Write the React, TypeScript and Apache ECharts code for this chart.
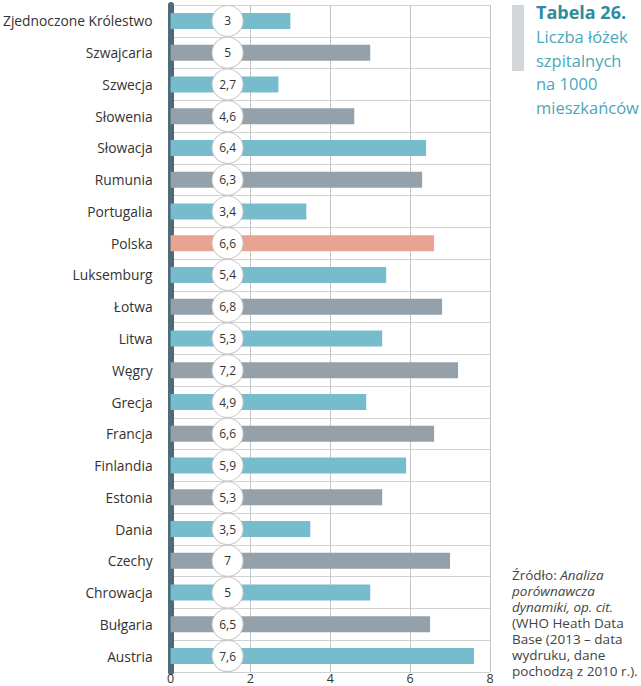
import React, { useEffect, useRef } from "react";
import * as echarts from "echarts";

const countries = [
  "Zjednoczone Królestwo",
  "Szwajcaria",
  "Szwecja",
  "Słowenia",
  "Słowacja",
  "Rumunia",
  "Portugalia",
  "Polska",
  "Luksemburg",
  "Łotwa",
  "Litwa",
  "Węgry",
  "Grecja",
  "Francja",
  "Finlandia",
  "Estonia",
  "Dania",
  "Czechy",
  "Chrowacja",
  "Bułgaria",
  "Austria",
];
const beds = [3, 5, 2.7, 4.6, 6.4, 6.3, 3.4, 6.6, 5.4, 6.8, 5.3, 7.2, 4.9, 6.6, 5.9, 5.3, 3.5, 7, 5, 6.5, 7.6];
const xTicks = [0, 2, 4, 6, 8];
const highlighted = "Polska";

const titleBold = "Tabela 26.";
const titleLines = ["Liczba łóżek", "szpitalnych", "na 1000", "mieszkańców"];

const BLUE = "#76bccd";
const GRAY = "#95a1aa";
const SALMON = "#e9a391";
const FONT = "'Open Sans', 'Noto Sans', sans-serif";

export default function App() {
  const ref = useRef<HTMLDivElement>(null);
  useEffect(() => {
    if (!ref.current) return;
    const chart = echarts.init(ref.current, undefined, { renderer: "svg" });
    const data = beds.map((v, i) => ({
      value: v,
      itemStyle: {
        color: countries[i] === highlighted ? SALMON : i % 2 === 0 ? BLUE : GRAY,
      },
    }));
    const fmt = (v: number) => String(v).replace(".", ",");
    chart.setOption({
      animation: false,
      textStyle: { fontFamily: FONT },
      grid: { left: 170, right: 151, top: 5, bottom: 14, containLabel: false },
      xAxis: {
        type: "value",
        min: xTicks[0],
        max: xTicks[xTicks.length - 1],
        interval: 2,
        axisLine: { show: false },
        axisTick: { show: false },
        axisLabel: {
          color: "#333",
          fontSize: 12.5,
          margin: 0,
          fontFamily: FONT,
          formatter: (v: number) => String(v),
        },
        splitLine: { show: true, lineStyle: { color: "#c4c4c4", width: 1 } },
      },
      yAxis: {
        type: "category",
        inverse: true,
        data: countries,
        offset: 3,
        axisLine: { show: true, lineStyle: { color: "#4d6b79", width: 6 } },
        axisTick: { show: false },
        axisLabel: { color: "#333", fontSize: 13.8, margin: 15, fontFamily: FONT },
        splitLine: { show: true, lineStyle: { color: "#d2d2d2", width: 1 } },
      },
      series: [
        {
          type: "bar",
          data,
          barWidth: 16,
          label: {
            show: true,
            position: [57, 8],
            align: "center",
            verticalAlign: "middle",
            formatter: (p: any) => fmt(p.value),
            color: "#333",
            fontSize: 12,
            fontFamily: FONT,
            backgroundColor: "#fff",
            borderColor: "#c9c9c9",
            borderWidth: 1,
            borderRadius: 15,
            width: 30,
            height: 30,
            lineHeight: 30,
            padding: 0,
          },
        },
      ],
      graphic: [
        {
          type: "rect",
          left: 512,
          top: 5,
          shape: { width: 12, height: 66 },
          style: { fill: "#d3d6d9" },
        },
        {
          type: "text",
          left: 536,
          top: 3,
          style: {
            text: titleBold,
            fontSize: 18,
            fontWeight: "bold",
            fill: "#2d8c9d",
            fontFamily: FONT,
          },
        },
        {
          type: "text",
          left: 536,
          top: 25,
          style: {
            text: titleLines.join("\n"),
            fontSize: 16.5,
            lineHeight: 23.5,
            fill: "#4aa7b8",
            fontFamily: FONT,
          },
        },
        {
          type: "text",
          left: 512,
          top: 567,
          style: {
            text:
              "{r|Źródło: }{i|Analiza}\n{i|porównawcza}\n{i|dynamiki, op. cit.}\n{r|(WHO Heath Data}\n{r|Base (2013 – data}\n{r|wydruku, dane}\n{r|pochodzą z 2010 r.).}",
            fontFamily: FONT,
            fill: "#444",
            fontSize: 13.5,
            lineHeight: 16,
            rich: {
              r: { fontSize: 13.5, lineHeight: 16, fill: "#444", fontFamily: FONT },
              i: { fontSize: 13.5, lineHeight: 16, fill: "#444", fontStyle: "italic", fontFamily: FONT },
            },
          },
        },
      ],
    });
    return () => chart.dispose();
  }, []);
  return <div ref={ref} style={{ width: 641, height: 686, position: "absolute", left: 0, top: 0 }} />;
}
